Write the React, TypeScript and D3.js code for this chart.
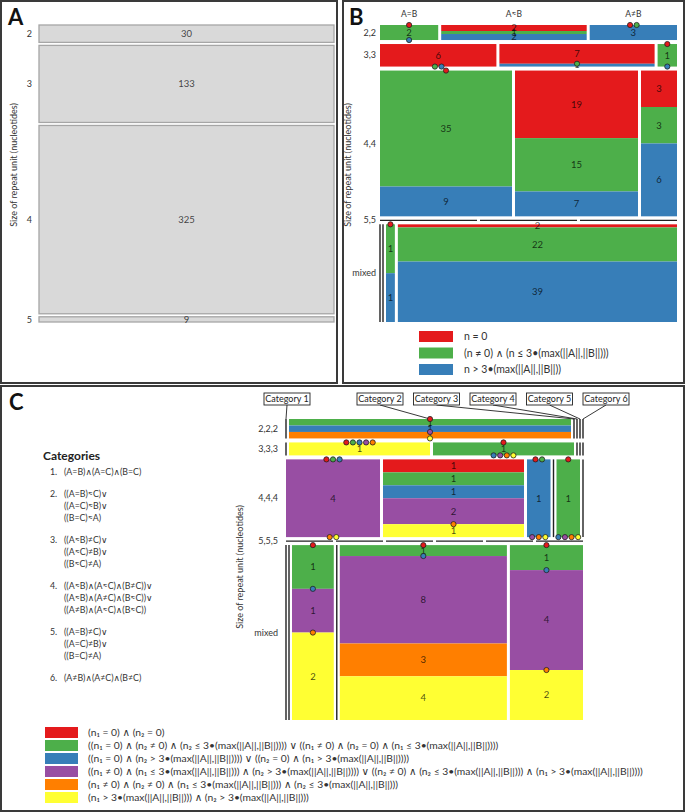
import React from 'react';
import * as d3 from 'd3';

// ---- Panel A: all repeats by unit size
const repeatSizesA = ['2', '3', '4', '5'];
const countsA = [30, 133, 325, 9];

// ---- Panel B: two-allele comparisons
const rowLabelsB = ['2,2', '3,3', '4,4', '5,5', 'mixed'];
const colHeadersB = ['A=B', 'A≈B', 'A≠B'];
const classLabelsB = [
  'n = 0',
  '(n ≠ 0) ∧ (n ≤ 3•(max(||A||,||B||)))',
  'n > 3•(max(||A||,||B||))',
];
// [row][column][class: red, green, blue]
const countsB = [
  [[0, 2, 0], [2, 1, 2], [0, 0, 3]],
  [[6, 0, 0], [7, 0, 1], [0, 1, 0]],
  [[0, 35, 9], [19, 15, 7], [3, 3, 6]],
  [[0, 0, 0], [0, 0, 0], [0, 0, 0]],
  [[0, 0, 0], [0, 0, 0], [0, 1, 1], [2, 22, 39]],
];

// ---- Panel C: three-allele comparisons
const rowLabelsC = ['2,2,2', '3,3,3', '4,4,4', '5,5,5', 'mixed'];
const categoryNamesC = ['Category 1', 'Category 2', 'Category 3', 'Category 4', 'Category 5', 'Category 6'];
const categoryDefsC = [
  ['(A=B)∧(A=C)∧(B=C)'],
  ['((A=B)≈C)∨', '((A=C)≈B)∨', '((B=C)≈A)'],
  ['((A≈B)≠C)∨', '((A≈C)≠B)∨', '((B≈C)≠A)'],
  ['((A≈B)∧(A≈C)∧(B≠C))∨', '((A≈B)∧(A≠C)∧(B≈C))∨', '((A≠B)∧(A≈C)∧(B≈C))'],
  ['((A=B)≠C)∨', '((A=C)≠B)∨', '((B=C)≠A)'],
  ['(A≠B)∧(A≠C)∧(B≠C)'],
];
const classLabelsC = [
  '(n₁ = 0) ∧ (n₂ = 0)',
  '((n₁ = 0) ∧ (n₂ ≠ 0) ∧ (n₂ ≤ 3•(max(||A||,||B||)))) ∨ ((n₁ ≠ 0) ∧ (n₂ = 0) ∧ (n₁ ≤ 3•(max(||A||,||B||))))',
  '((n₁ = 0) ∧ (n₂ > 3•(max(||A||,||B||)))) ∨ ((n₂ = 0) ∧ (n₁ > 3•(max(||A||,||B||))))',
  '((n₁ ≠ 0) ∧ (n₁ ≤ 3•(max(||A||,||B||))) ∧ (n₂ > 3•(max(||A||,||B||)))) ∨ ((n₂ ≠ 0) ∧ (n₂ ≤ 3•(max(||A||,||B||))) ∧ (n₁ > 3•(max(||A||,||B||))))',
  '(n₁ ≠ 0) ∧ (n₂ ≠ 0) ∧ (n₁ ≤ 3•(max(||A||,||B||))) ∧ (n₂ ≤ 3•(max(||A||,||B||)))',
  '(n₁ > 3•(max(||A||,||B||))) ∧ (n₂ > 3•(max(||A||,||B||)))',
];
// [row][category][class: red, green, blue, purple, orange, yellow]
const Z = [0, 0, 0, 0, 0, 0];
const countsC = [
  [Z, [0, 1, 1, 0, 1, 0], Z, Z, Z, Z],
  [Z, [0, 0, 0, 0, 0, 1], [0, 1, 0, 0, 0, 0], Z, Z, Z],
  [[0, 0, 0, 4, 0, 0], [1, 1, 1, 2, 0, 1], [0, 0, 1, 0, 0, 0], Z, [0, 1, 0, 0, 0, 0], Z],
  [Z, Z, Z, Z, Z, Z],
  [Z, Z, [0, 1, 0, 1, 0, 2], Z, [0, 1, 0, 8, 3, 4], [0, 1, 0, 4, 0, 2]],
];

const palette = ['#e41a1c', '#4daf4a', '#377eb8', '#984ea3', '#ff7f00', '#ffff33'];
const FONT = "Lato, 'DejaVu Sans', sans-serif";
const INK = '#333';

type Seg = { x: number; y: number; w: number; h: number; cls: number; n: number; cx: number };
type Col = { x: number; w: number; center: number };
type Row = { top: number; h: number; mid: number; cols: Col[] };

function layoutMosaic(counts: number[][][], x0: number, x1: number, y0: number, y1: number, gapX: number, gapY: number) {
  const rowTotals = counts.map(row => d3.sum(row, col => d3.sum(col)));
  const yScale = d3.scaleLinear()
    .domain([0, d3.sum(rowTotals)])
    .range([0, y1 - y0 - (counts.length - 1) * gapY]);
  const segments: Seg[] = [];
  const markers: { cx: number; cy: number; cls: number }[] = [];
  const hLines: { x1: number; x2: number; y: number }[] = [];
  const vLines: { x: number; y1: number; y2: number }[] = [];
  const rows: Row[] = [];
  let top = y0;
  counts.forEach((row, ri) => {
    const h = yScale(rowTotals[ri]);
    const W = x1 - x0 - (row.length - 1) * gapX;
    const cols: Col[] = [];
    if (rowTotals[ri] === 0) {
      // empty row -> one dash per column
      const band = W / row.length;
      row.forEach((_, ci) => {
        const x = x0 + ci * (band + gapX);
        hLines.push({ x1: x, x2: x + band, y: top });
        cols.push({ x, w: band, center: x + band / 2 });
      });
    } else {
      const xScale = d3.scaleLinear().domain([0, rowTotals[ri]]).range([0, W]);
      let left = x0;
      row.forEach(col => {
        const total = d3.sum(col);
        const w = xScale(total);
        if (total === 0) {
          vLines.push({ x: left, y1: top, y2: top + h });
          cols.push({ x: left, w: 0, center: left });
        } else {
          const cx = left + w / 2;
          const v = d3.scaleLinear().domain([0, total]).range([top, top + h]);
          let acc = 0;
          const empty: { y: number; cls: number }[] = [];
          col.forEach((n, k) => {
            if (n === 0) {
              empty.push({ y: v(acc), cls: k });
            } else {
              segments.push({ x: left, y: v(acc), w, h: v(acc + n) - v(acc), cls: k, n, cx });
              acc += n;
            }
          });
          d3.group(empty, e => e.y.toFixed(2)).forEach(g => {
            g.forEach((e, j) => markers.push({ cx: cx + (j - (g.length - 1) / 2) * 6.6, cy: e.y, cls: e.cls }));
          });
          cols.push({ x: left, w, center: cx });
        }
        left += w + gapX;
      });
    }
    rows.push({ top, h, mid: top + h / 2, cols });
    top += h + gapY;
  });
  return { segments, markers, hLines, vLines, rows };
}

function Mosaic({ lay, colors, rowLabels, labelX, outline }: {
  lay: ReturnType<typeof layoutMosaic>; colors: string[]; rowLabels: string[]; labelX: number; outline?: string;
}) {
  return (
    <g>
      {lay.segments.map((s, i) => (
        <rect key={'s' + i} x={s.x} y={s.y} width={s.w} height={s.h} fill={colors[s.cls]}
          stroke={outline || 'none'} strokeWidth={outline ? 1.3 : 0} />
      ))}
      {lay.segments.map((s, i) => (
        <text key={'t' + i} x={s.cx} y={s.y + s.h / 2} dy="0.35em" textAnchor="middle"
          fontSize={9.5} fill="#000" fillOpacity={0.72}>{s.n}</text>
      ))}
      {lay.vLines.map((l, i) => (
        <line key={'v' + i} x1={l.x} x2={l.x} y1={l.y1} y2={l.y2} stroke="#222" strokeWidth={1.4} />
      ))}
      {lay.hLines.map((l, i) => (
        <line key={'h' + i} x1={l.x1} x2={l.x2} y1={l.y} y2={l.y} stroke="#222" strokeWidth={1.4} />
      ))}
      {lay.markers.map((m, i) => (
        <circle key={'m' + i} cx={m.cx} cy={m.cy} r={2.6} fill={colors[m.cls]} stroke="#222" strokeWidth={0.8} />
      ))}
      {lay.rows.map((r, i) => (
        <text key={'r' + i} x={labelX} y={r.mid} dy="0.35em" textAnchor="end" fontSize={9} fill={INK}>{rowLabels[i]}</text>
      ))}
    </g>
  );
}

function YTitle({ x, y }: { x: number; y: number }) {
  return (
    <text transform={`translate(${x},${y}) rotate(-90)`} textAnchor="middle" fontSize={9} fill={INK}>
      Size of repeat unit (nucleotides)
    </text>
  );
}

export default function App() {
  const layA = layoutMosaic(countsA.map(v => [[v]]), 39, 334, 25, 322, 0, 3);
  const layB = layoutMosaic(countsB, 380, 677, 25, 322, 3, 4);
  const layC = layoutMosaic(countsC, 286, 583, 419, 720, 3, 4);

  // category callouts above panel C
  const boxW = 46;
  const boxX = (i: number) => (i === 0 ? layC.rows[0].cols[0].center + 1 : 380 + (i - 1) * 56.5);

  let defLine = 0;
  const defY = [475, 497, 509, 521, 543, 555, 567, 589, 601, 613, 635, 647, 659, 681];

  return (
    <svg width={685} height={812} style={{ position: 'absolute', left: 0, top: 0, background: '#fff' }}
      fontFamily={FONT}>
      {/* frames */}
      <rect x={1} y={1} width={336} height={382} fill="none" stroke="#3a3a3a" strokeWidth={2} />
      <rect x={343} y={1} width={341} height={382} fill="none" stroke="#3a3a3a" strokeWidth={2} />
      <rect x={1} y={386} width={683} height={425} fill="none" stroke="#3a3a3a" strokeWidth={2} />

      {/* ---- A ---- */}
      <text x={8} y={25} fontSize={22} fontWeight="bold" fill="#111">A</text>
      <YTitle x={17} y={165} />
      <Mosaic lay={layA} colors={['#d9d9d9']} rowLabels={repeatSizesA} labelX={32} outline="#a6a6a6" />

      {/* ---- B ---- */}
      <text x={349} y={25} fontSize={22} fontWeight="bold" fill="#111">B</text>
      <YTitle x={351} y={165} />
      {layB.rows[0].cols.map((c, i) => (
        <text key={i} x={c.center} y={17} textAnchor="middle" fontSize={8.5} fill={INK}>{colHeadersB[i]}</text>
      ))}
      <Mosaic lay={layB} colors={palette} rowLabels={rowLabelsB} labelX={376} />
      {classLabelsB.map((t, i) => (
        <g key={i} transform={`translate(419,${331 + i * 16.5})`}>
          <rect width={34} height={11} fill={palette[i]} />
          <text x={45} y={5.5} dy="0.35em" fontSize={10.5} fill={INK}>{t}</text>
        </g>
      ))}

      {/* ---- C ---- */}
      <text x={9} y={410} fontSize={22} fontWeight="bold" fill="#111">C</text>
      <text x={43} y={460} fontSize={12} fontWeight="bold" fill="#222">Categories</text>
      {categoryDefsC.map((lines, i) => (
        <g key={i}>
          <text x={50} y={defY[defLine]} fontSize={8.8} fill={INK}>{i + 1}.</text>
          {lines.map((l, j) => (
            <text key={j} x={64} y={defY[defLine++]} fontSize={8.8} fill={INK}>{l}</text>
          ))}
        </g>
      ))}
      <YTitle x={243} y={567} />
      {categoryNamesC.map((name, i) => {
        const bx = boxX(i);
        const target = layC.rows[0].cols[i].center;
        return (
          <g key={i}>
            <line x1={bx} y1={405} x2={target} y2={layC.rows[0].top} stroke="#222" strokeWidth={0.9} />
            <rect x={bx - boxW / 2} y={393} width={boxW} height={12} fill="#fff" stroke="#222" strokeWidth={0.9} />
            <text x={bx} y={399} dy="0.35em" textAnchor="middle" fontSize={9} fill="#222">{name}</text>
          </g>
        );
      })}
      <Mosaic lay={layC} colors={palette} rowLabels={rowLabelsC} labelX={278} />
      {classLabelsC.map((t, i) => (
        <g key={i} transform={`translate(45,${727 + i * 13})`}>
          <rect width={33} height={11} fill={palette[i]} />
          <text x={43} y={5.5} dy="0.35em" fontSize={10.3} fill={INK}>{t}</text>
        </g>
      ))}
    </svg>
  );
}
